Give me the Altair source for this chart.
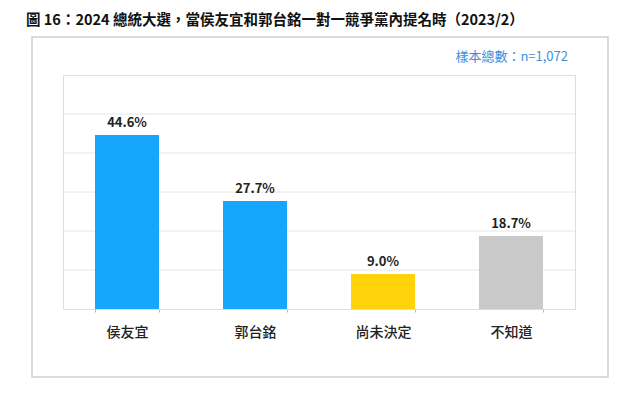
import altair as alt
import pandas as pd

categories = ["侯友宜", "郭台銘", "尚未決定", "不知道"]
values = [44.6, 27.7, 9.0, 18.7]
colors = ["#16a6fb", "#16a6fb", "#ffd20a", "#c9c9c9"]
labels = ["44.6%", "27.7%", "9.0%", "18.7%"]
grid_values = [10, 20, 30, 40, 50]
title_text = "圖 16：2024 總統大選，當侯友宜和郭台銘一對一競爭黨內提名時（2023/2）"
sample_text = "樣本總數：n=1,072"

FONT = "Noto Sans CJK TC"
W, H = 512, 234

df = pd.DataFrame({"cat": categories, "val": values, "color": colors, "label": labels})
yscale = alt.Scale(domain=[0, 60], nice=False)

frame = alt.Chart(pd.DataFrame({"a": [0]})).mark_rect(
    filled=False, stroke="#cfcfcf", strokeWidth=1.5
).encode(x=alt.value(-31), x2=alt.value(545), y=alt.value(-38), y2=alt.value(302))

title = alt.Chart(pd.DataFrame({"t": [title_text]})).mark_text(
    font=FONT, fontSize=14.5, fontWeight="bold", align="left", baseline="middle", color="#111"
).encode(text="t:N", x=alt.value(-37), y=alt.value(-54))

sample = alt.Chart(pd.DataFrame({"t": [sample_text]})).mark_text(
    font=FONT, fontSize=13, align="right", baseline="middle", color="#3d8fe0"
).encode(text="t:N", x=alt.value(505), y=alt.value(-18))

grid = alt.Chart(pd.DataFrame({"g": grid_values})).mark_rule(
    color="#e6e6e6", strokeWidth=1
).encode(y=alt.Y("g:Q", scale=yscale, axis=None), x=alt.value(0), x2=alt.value(W))

xenc = alt.X("cat:N", sort=categories, scale=alt.Scale(paddingInner=0.5, paddingOuter=0.25),
             axis=alt.Axis(title=None, labelAngle=0, labelFont=FONT, labelFontSize=14,
                           labelFontWeight=500, labelColor="#222", labelPadding=13,
                           domain=False, tickBand="extent", tickSize=3,
                           tickColor="#bbbbbb"))
yenc = alt.Y("val:Q", scale=yscale, axis=None)

bars = alt.Chart(df).mark_bar().encode(
    x=xenc, y=yenc, color=alt.Color("color:N", scale=None)
)
text = alt.Chart(df).mark_text(
    font=FONT, fontSize=13, fontWeight="bold", baseline="bottom", dy=-5, color="#222"
).encode(x=alt.X("cat:N", sort=categories), y="val:Q", text="label:N")

chart = alt.layer(frame, title, sample, grid, bars, text).properties(
    width=W, height=H,
    autosize=alt.AutoSizeParams(type="none"),
    padding={"left": 55, "top": 67, "right": 57, "bottom": 82},
).configure_view(stroke="#c4c4c4", strokeWidth=1.2).configure(background="white")

chart.save("out.html", embed_options={"renderer": "svg", "actions": False})
